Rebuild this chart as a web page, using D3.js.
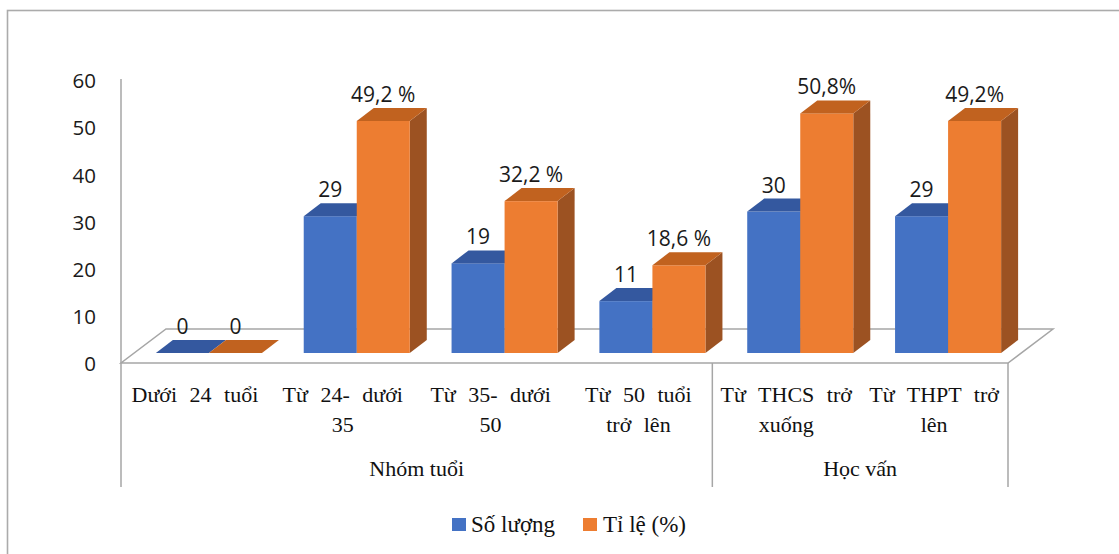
<!DOCTYPE html>
<html>
<head>
<meta charset="utf-8">
<script src="https://cdn.jsdelivr.net/npm/d3@7"></script>
<style>
  html, body { margin: 0; padding: 0; background: #fff; }
  svg { display: block; }
</style>
</head>
<body>
<svg id="chart" width="1119" height="554"></svg>
<script>
// Survey respondents by age group and education level
const categories = ["Dưới 24 tuổi", "Từ 24- dưới 35", "Từ 35- dưới 50", "Từ 50 tuổi trở lên", "Từ THCS trở xuống", "Từ THPT trở lên"];
const groupNames = ["Nhóm tuổi", "Học vấn"];
const groupSizes = [4, 2];
const seriesNames = ["Số lượng", "Tỉ lệ (%)"];
const soLuong = [0, 29, 19, 11, 30, 29];
const tiLe = [0, 49.2, 32.2, 18.6, 50.8, 49.2];
const soLuongLabels = ["0", "29", "19", "11", "30", "29"];
const tiLeLabels = ["0", "49,2 %", "32,2 %", "18,6 %", "50,8%", "49,2%"];
const yTicks = [0, 10, 20, 30, 40, 50, 60];

const svg = d3.select("#chart");

const SANS = "Open Sans";
const SERIF = "Liberation Serif";
const numStyle = sel => sel.attr("font-family", SANS).attr("font-size", 20.5).attr("fill", "#1a1a1a");
const catStyle = sel => sel.attr("font-family", SERIF).attr("font-size", 22).attr("fill", "#111");

// plot geometry (oblique 3D projection)
const left = 121, right = 1008, floorY = 363, topY = 80;
const floorDepth = [45, -34];   // depth of the floor
const barOffset = [14, -10];    // bars sit halfway into the floor
const barDepth = [17, -13];     // depth of each bar
const axisColor = "#a6a6a6";

const colors = {
  blue:   { front: "#4472c4", top: "#34589f", side: "#2f4f8c" },
  orange: { front: "#ed7d31", top: "#c1621f", side: "#9c5222" }
};
const seriesColors = [colors.blue, colors.orange];

const x0 = d3.scaleBand().domain(categories).range([left, right]).padding(0);
const x1 = d3.scaleBand().domain(seriesNames).range([0, x0.bandwidth()]).paddingInner(0).paddingOuter(0.394);
const y = d3.scaleLinear().domain([0, 60]).range([floorY, topY]);

// outer frame (partly outside the viewport)
svg.append("rect").attr("x", 7.5).attr("y", 10.5).attr("width", 1300).attr("height", 700)
  .attr("fill", "none").attr("stroke", "#ababab").attr("stroke-width", 1.6);

// floor
const fl = d3.path();
fl.moveTo(left, floorY);
fl.lineTo(right, floorY);
fl.lineTo(right + floorDepth[0], floorY + floorDepth[1]);
fl.lineTo(left + floorDepth[0], floorY + floorDepth[1]);
fl.closePath();
svg.append("path").attr("d", fl.toString()).attr("fill", "#fff")
  .attr("stroke", axisColor).attr("stroke-width", 1.5);

// value axis line + category separators
const lowerY = 487;
svg.append("line").attr("x1", left).attr("x2", left).attr("y1", y(60) - 1).attr("y2", lowerY)
  .attr("stroke", axisColor).attr("stroke-width", 1.5);
let acc = 0;
groupSizes.forEach(n => {
  acc += n;
  const xe = x0(categories[acc - 1]) + x0.bandwidth();
  svg.append("line").attr("x1", xe).attr("x2", xe).attr("y1", floorY).attr("y2", lowerY)
    .attr("stroke", axisColor).attr("stroke-width", 1.5);
});

// y tick labels
svg.append("g").selectAll("text").data(yTicks).join("text")
  .call(numStyle)
  .attr("x", 96).attr("y", d => y(d) + 1).attr("dy", "0.35em")
  .attr("text-anchor", "end")
  .text(d => d);

// bars
const values = [soLuong, tiLe];
const labels = [soLuongLabels, tiLeLabels];
const barsG = svg.append("g");
const labelG = svg.append("g");
categories.forEach((c, i) => {
  seriesNames.forEach((s, k) => {
    const v = values[k][i];
    const col = seriesColors[k];
    const xl = x0(c) + x1(s) + barOffset[0];
    const xr = xl + x1.bandwidth();
    const yb = y(0) + barOffset[1];
    const yt = y(v) + barOffset[1];
    const [dx, dy] = barDepth;
    // right side
    barsG.append("path")
      .attr("d", `M${xr},${yt}L${xr + dx},${yt + dy}L${xr + dx},${yb + dy}L${xr},${yb}Z`)
      .attr("fill", col.side);
    // front
    if (v > 0) {
      barsG.append("rect").attr("x", xl).attr("y", yt).attr("width", xr - xl).attr("height", yb - yt)
        .attr("fill", col.front);
    }
    // top
    barsG.append("path")
      .attr("d", `M${xl},${yt}L${xr},${yt}L${xr + dx},${yt + dy}L${xl + dx},${yt + dy}Z`)
      .attr("fill", col.top);
    // value label
    labelG.append("text").call(numStyle).attr("font-size", 21)
      .attr("x", (xl + xr) / 2)
      .attr("y", yt + dy - 6)
      .attr("text-anchor", "middle")
      .text(labels[k][i]);
  });
});

// category labels (wrapped within each band)
const catG = svg.append("g");
const maxW = 142;
const wordGap = "7px";
categories.forEach(c => {
  const cx = x0(c) + x0.bandwidth() / 2;
  const t = catG.append("text").call(catStyle).style("word-spacing", wordGap).attr("text-anchor", "middle");
  const words = c.split(" ");
  let lines = [], line = [];
  const probe = catG.append("text").call(catStyle).style("word-spacing", wordGap);
  words.forEach(w => {
    const trial = line.concat([w]).join(" ");
    probe.text(trial);
    if (line.length && probe.node().getComputedTextLength() > maxW) {
      lines.push(line.join(" "));
      line = [w];
    } else {
      line.push(w);
    }
  });
  lines.push(line.join(" "));
  probe.remove();
  lines.forEach((ln, j) => {
    t.append("tspan").attr("x", cx).attr("y", 402 + j * 30).text(ln);
  });
});

// group labels
acc = 0;
groupNames.forEach((g, gi) => {
  const first = categories[acc];
  acc += groupSizes[gi];
  const last = categories[acc - 1];
  const gx = (x0(first) + x0(last) + x0.bandwidth()) / 2;
  svg.append("text").call(catStyle).attr("x", gx).attr("y", 476)
    .attr("text-anchor", "middle").text(g);
});

// legend
const legend = [{ name: seriesNames[0], color: colors.blue.front, x: 452, tx: 471 },
                { name: seriesNames[1], color: colors.orange.front, x: 583, tx: 603 }];
const lg = svg.append("g");
legend.forEach(d => {
  lg.append("rect").attr("x", d.x).attr("y", 518).attr("width", 14).attr("height", 13).attr("fill", d.color);
  lg.append("text").call(catStyle).attr("font-size", 23).attr("x", d.tx).attr("y", 532).text(d.name);
});
</script>
</body>
</html>
